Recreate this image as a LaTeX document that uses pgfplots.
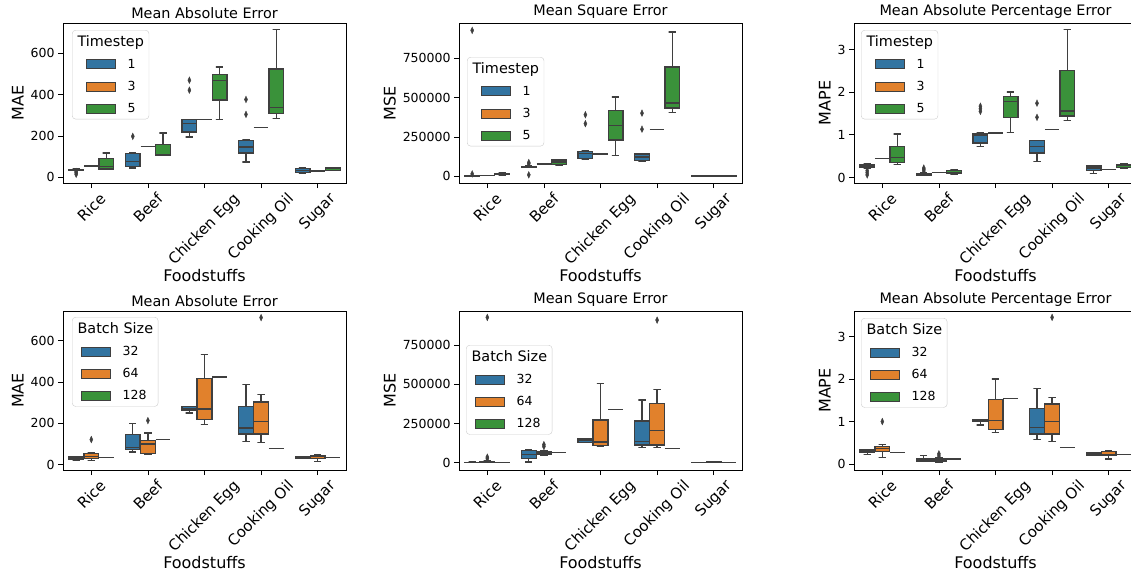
\documentclass[border=0pt]{standalone}
\usepackage{fontspec}
\setmainfont{DejaVu Sans}
\usepackage{pgfplots}
\pgfplotsset{compat=1.18}
\definecolor{cB}{HTML}{3274A1}
\definecolor{cO}{HTML}{E1812C}
\definecolor{cG}{HTML}{3A923A}
\definecolor{edgegray}{HTML}{3F3F3F}
\definecolor{legframe}{HTML}{CCCCCC}
\pgfplotsset{bxl/.style={draw=edgegray, line width=1.3pt, forget plot}}
% box: pos, lower whisker, q1, median, q3, upper whisker, colour
\newcommand{\bx}[7]{%
\addplot[bxl] table[row sep=\\, x expr=#1+\thisrowno{0}, y index=1] {0 #3\\ 0 #2\\ -0.065 #2\\ 0.065 #2\\};
\addplot[bxl] table[row sep=\\, x expr=#1+\thisrowno{0}, y index=1] {0 #5\\ 0 #6\\ -0.065 #6\\ 0.065 #6\\};
\addplot[bxl, fill=#7] table[row sep=\\, x expr=#1+\thisrowno{0}, y index=1] {-0.13 #3\\ 0.13 #3\\ 0.13 #5\\ -0.13 #5\\ -0.13 #3\\ 0.13 #3\\};
\addplot[bxl] table[row sep=\\, x expr=#1+\thisrowno{0}, y index=1] {-0.13 #4\\ 0.13 #4\\};
}
% single value: pos, value
\newcommand{\sv}[2]{%
\addplot[bxl] table[row sep=\\, x expr=#1+\thisrowno{0}, y index=1] {-0.13 #2\\ 0.13 #2\\};
}
% outliers: pos, values
\newcommand{\ol}[2]{%
\addplot[only marks, mark=diamond*, mark size=3.3pt, mark options={fill=edgegray, draw=edgegray, xscale=0.62, line width=0.4pt}, forget plot] table[row sep=\\, x expr=#1, y index=0] {#2};
}
% legend patch: colour, left offset, cell width
\newcommand{\legpatch}[3]{\addlegendimage{legend image code/.code={\path (0pt,0pt) (#3pt,0pt); \draw[fill=#1, draw=edgegray, line width=1pt, sharp corners, fill opacity=1, draw opacity=1] (#2pt,-4.5pt) rectangle (#2pt+29.3pt,4.5pt);}}}
\newcommand{\rl}[1]{\rotatebox{45}{\fontsize{15}{18}\selectfont #1}}
\pgfplotsset{
  myax/.style={
    scale only axis, width=283pt,
    xmin=-0.5, xmax=4.5,
    xtick={0,1,2,3,4},
    xticklabels={\rl{Rice},\rl{Beef},\rl{Chicken Egg},\rl{Cooking Oil},\rl{Sugar}},
    xtick pos=bottom, ytick pos=left,
    tick align=outside, major tick length=5pt,
    tick style={black, line width=0.8pt},
    axis line style={black, line width=0.8pt},
    /pgf/number format/assume math mode=true,
    tick label style={font=\fontsize{12.5}{15}\selectfont},
    xticklabel style={anchor=north, inner sep=3.5pt},
    title style={font=\fontsize{14.4}{17}\selectfont, yshift=-5pt},
    label style={font=\fontsize{16}{19}\selectfont},
    xlabel={Foodstuffs},
    xlabel style={at={(axis description cs:0.5,0)}, anchor=north, inner sep=0pt, yshift=-86pt},
    legend cell align=left,
    legend style={font=\fontsize{12.5}{15}\selectfont, anchor=north west, at={(0,1)},
      draw=legframe, rounded corners=3.5pt, fill=white, fill opacity=0.8, text opacity=1,
      row sep=7.5pt, inner xsep=5pt, inner ysep=3pt, nodes={inner xsep=0pt}},
  },
  mae/.style={ymin=-27, ymax=745, ytick={0,200,400,600}, ylabel={MAE}},
  % MSE values are given in thousands
  mse/.style={ymin=-42, ymax=975, ytick={0,250,500,750}, yticklabels={0,250000,500000,750000}, ylabel={MSE}},
  mape/.style={ymin=-0.13, ymax=3.62, ytick={0,1,2,3}, ylabel={MAPE}},
}
\newcommand{\legT}{\addlegendimage{empty legend}\addlegendentry{\hspace{-50pt}\fontsize{14.4}{17}\selectfont Timestep}
\legpatch{cB}{9}{50}\addlegendentry{1}\legpatch{cO}{9}{50}\addlegendentry{3}\legpatch{cG}{9}{50}\addlegendentry{5}}
\newcommand{\legS}{\addlegendimage{empty legend}\addlegendentry{\hspace{-45pt}\fontsize{14.4}{17}\selectfont Batch Size}
\legpatch{cB}{4}{45}\addlegendentry{32}\legpatch{cO}{4}{45}\addlegendentry{64}\legpatch{cG}{4}{45}\addlegendentry{128}}
\begin{document}
\begin{tikzpicture}
%%%%% P1
\begin{axis}[myax, mae, height=160pt, at={(63pt,-23pt)}, anchor=north west, title={Mean Absolute Error},
  legend style={xshift=9pt, yshift=-7pt}]
\legT
\bx{-0.267}{33}{36}{38}{39}{41}{cB}\ol{-0.267}{28\\22\\15\\}
\sv{0}{55}
\bx{0.267}{38}{40}{54}{90}{118}{cG}
\bx{0.733}{46}{54}{78}{115}{120}{cB}\ol{0.733}{198\\}
\sv{1}{150}
\bx{1.267}{107}{107}{108}{158}{215}{cG}
\bx{1.733}{195}{219}{261}{278}{280}{cB}\ol{1.733}{469\\421\\}
\sv{2}{280}
\bx{2.267}{280}{373}{469}{496}{533}{cG}
\bx{2.733}{75}{118}{147}{179}{180}{cB}\ol{2.733}{376\\304\\}
\sv{3}{240}
\bx{3.267}{283}{307}{336}{523}{712}{cG}
\bx{3.733}{20}{24}{32}{42}{45}{cB}
\sv{4}{31}
\bx{4.267}{32}{35}{42}{45}{47}{cG}
\end{axis}
%%%%% P2 (values in thousands)
\begin{axis}[myax, mse, height=160pt, at={(459pt,-23pt)}, anchor=north west, title={Mean Square Error},
  legend style={xshift=8pt, yshift=-34pt}]
\legT
\bx{-0.267}{0.5}{1}{2}{3}{4}{cB}\ol{-0.267}{928\\16\\}
\sv{0}{5}
\bx{0.267}{8}{10}{13}{18}{22}{cG}
\bx{0.733}{58}{59}{62}{64}{66}{cB}\ol{0.733}{80\\88\\10\\}
\sv{1}{78}
\bx{1.267}{70}{76}{92}{105}{108}{cG}
\bx{1.733}{106}{112}{144}{160}{165}{cB}\ol{1.733}{392\\335\\}
\sv{2}{142}
\bx{2.267}{135}{232}{325}{419}{504}{cG}
\bx{2.733}{95}{100}{123}{142}{144}{cB}\ol{2.733}{402\\300\\}
\sv{3}{300}
\bx{3.267}{407}{434}{466}{695}{917}{cG}
\bx{3.733}{1}{1.5}{2}{2.5}{3}{cB}
\sv{4}{2}
\bx{4.267}{1.5}{2}{2.5}{3}{3.5}{cG}
\end{axis}
%%%%% P3
\begin{axis}[myax, mape, height=160pt, at={(854pt,-23pt)}, anchor=north west, title={Mean Absolute Percentage Error},
  legend style={xshift=7pt, yshift=-7pt}]
\legT
\bx{-0.267}{0.22}{0.24}{0.27}{0.31}{0.33}{cB}\ol{-0.267}{0.06\\0.11\\0.16\\}
\sv{0}{0.44}
\bx{0.267}{0.30}{0.35}{0.46}{0.72}{1.02}{cG}
\bx{0.733}{0.04}{0.05}{0.07}{0.09}{0.11}{cB}\ol{0.733}{0.15\\0.19\\0.22\\}
\sv{1}{0.12}
\bx{1.267}{0.07}{0.09}{0.12}{0.16}{0.18}{cG}
\bx{1.733}{0.73}{0.81}{0.98}{1.02}{1.04}{cB}\ol{1.733}{1.67\\1.55\\1.61\\}
\sv{2}{1.04}
\bx{2.267}{1.06}{1.41}{1.78}{1.89}{2.0}{cG}
\bx{2.733}{0.37}{0.57}{0.73}{0.86}{0.87}{cB}\ol{2.733}{1.74\\1.41\\}
\sv{3}{1.12}
\bx{3.267}{1.34}{1.44}{1.56}{2.5}{3.46}{cG}
\bx{3.733}{0.10}{0.16}{0.22}{0.27}{0.28}{cB}
\sv{4}{0.18}
\bx{4.267}{0.22}{0.24}{0.29}{0.31}{0.32}{cG}
\end{axis}
%%%%% P4
\begin{axis}[myax, mae, height=159pt, at={(63pt,-311pt)}, anchor=north west, title={Mean Absolute Error},
  legend style={xshift=9pt, yshift=-6pt}]
\legS
\bx{-0.267}{22}{26}{32}{37}{38}{cB}
\bx{0}{19}{29}{40}{52}{57}{cO}\ol{0}{121\\}
\sv{0.267}{35}
\bx{0.733}{60}{73}{84}{145}{200}{cB}
\bx{1}{48}{52}{100}{116}{153}{cO}\ol{1}{213\\}
\sv{1.267}{120}
\bx{1.733}{250}{261}{269}{282}{283}{cB}
\bx{2}{194}{218}{269}{416}{535}{cO}
\sv{2.267}{424}
\bx{2.733}{113}{148}{177}{282}{387}{cB}
\bx{3}{105}{148}{210}{303}{339}{cO}\ol{3}{713\\}
\sv{3.267}{76}
\bx{3.733}{30}{31}{35}{39}{40}{cB}
\bx{4}{16}{28}{37}{44}{46}{cO}
\sv{4.267}{35}
\end{axis}
%%%%% P5 (values in thousands)
\begin{axis}[myax, mse, ymin=-47, ymax=968, height=159pt, at={(459pt,-311pt)}, anchor=north west, title={Mean Square Error},
  legend style={xshift=7pt, yshift=-34pt}]
\legS
\bx{-0.267}{0.5}{1}{1.5}{2.5}{3.5}{cB}
\bx{0}{1.5}{3}{5}{9}{14}{cO}\ol{0}{927\\25\\35\\}
\sv{0.267}{1.5}
\bx{0.733}{5}{28}{50}{77}{81}{cB}
\bx{1}{45}{54}{62}{70}{76}{cO}\ol{1}{103\\115\\}
\sv{1.267}{64}
\bx{1.733}{128}{130}{140}{150}{153}{cB}
\bx{2}{103}{108}{131}{272}{504}{cO}
\sv{2.267}{340}
\bx{2.733}{96}{113}{133}{265}{400}{cB}
\bx{3}{96}{113}{205}{379}{468}{cO}\ol{3}{910\\}
\sv{3.267}{89}
\bx{3.733}{1}{1.5}{2}{2.5}{3}{cB}
\bx{4}{1}{2}{3}{5}{8}{cO}
\sv{4.267}{2}
\end{axis}
%%%%% P6
\begin{axis}[myax, mape, ymin=-0.14, ymax=3.6, height=159pt, at={(854pt,-311pt)}, anchor=north west, title={Mean Absolute Percentage Error},
  legend style={xshift=7pt, yshift=-7pt}]
\legS
\bx{-0.267}{0.22}{0.28}{0.30}{0.33}{0.34}{cB}
\bx{0}{0.15}{0.30}{0.36}{0.42}{0.46}{cO}\ol{0}{1.0\\}
\sv{0.267}{0.27}
\bx{0.733}{0.06}{0.07}{0.09}{0.12}{0.2}{cB}
\bx{1}{0.05}{0.055}{0.08}{0.12}{0.14}{cO}\ol{1}{0.19\\0.24\\}
\sv{1.267}{0.12}
\bx{1.733}{0.92}{1.0}{1.02}{1.04}{1.05}{cB}
\bx{2}{0.75}{0.82}{1.02}{1.52}{2.0}{cO}
\sv{2.267}{1.55}
\bx{2.733}{0.57}{0.71}{0.86}{1.31}{1.78}{cB}
\bx{3}{0.53}{0.71}{1.0}{1.41}{1.56}{cO}\ol{3}{3.45\\}
\sv{3.267}{0.39}
\bx{3.733}{0.2}{0.21}{0.24}{0.27}{0.28}{cB}
\bx{4}{0.12}{0.2}{0.23}{0.29}{0.32}{cO}
\sv{4.267}{0.23}
\end{axis}
\pgfresetboundingbox
\path[use as bounding box] (0,0) rectangle (1131pt,-571pt);
\end{tikzpicture}
\end{document}
